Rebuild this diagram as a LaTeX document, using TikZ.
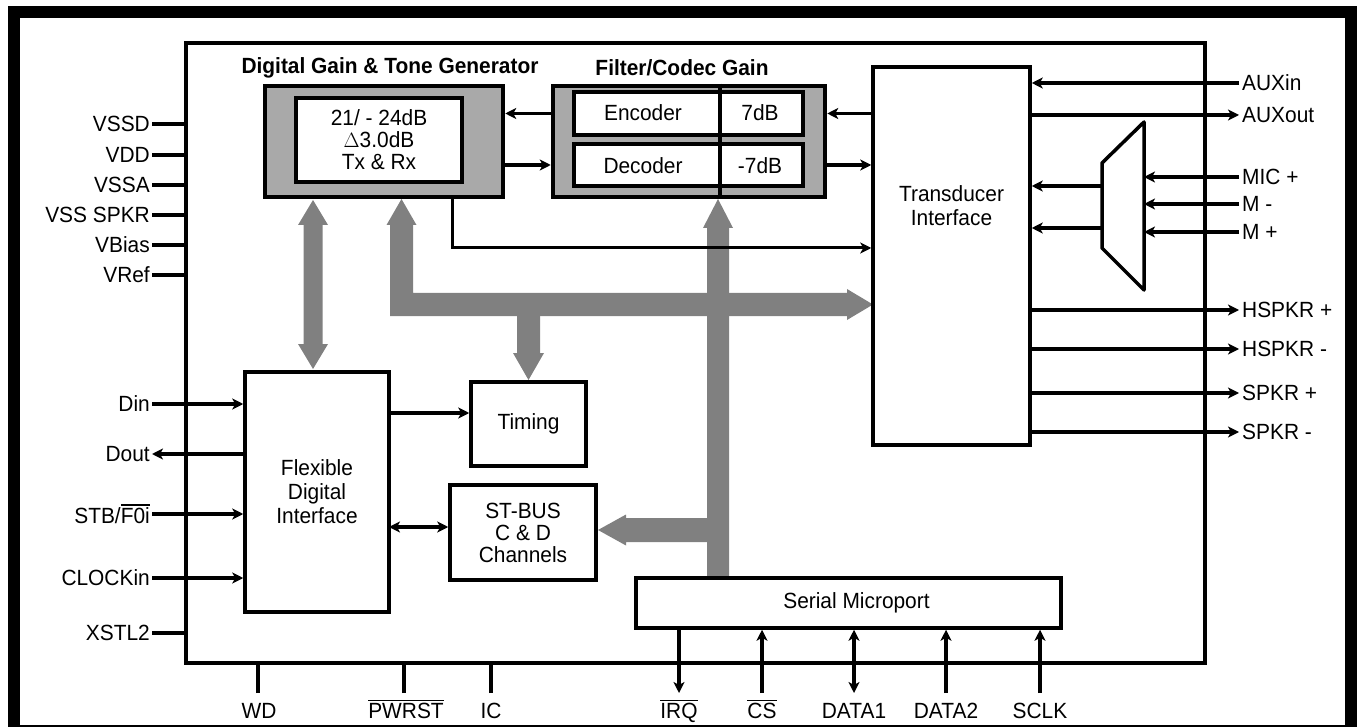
\documentclass[tikz,border=0pt]{standalone}
\usepackage{fontspec}
\setmainfont{Liberation Sans}[FakeStretch=0.95]
\usetikzlibrary{arrows.meta,calc}
\definecolor{busgray}{HTML}{808080}
\definecolor{boxgray}{HTML}{A9A9A9}
\newcommand{\ovl}[1]{\leavevmode\vbox{\hrule height 1.4pt\kern 1.6pt\hbox{#1}}}
\begin{document}
\begin{tikzpicture}[x=1pt,y=-1pt,
  txt/.style={font=\fontsize{22pt}{22pt}\selectfont},
  ttl/.style={font=\fontsize{22pt}{22pt}\selectfont\bfseries},
  blk/.style={draw, line width=3.5pt, inner sep=0pt, fill=white, align=center, txt},
  gbox/.style={draw, line width=4.5pt, fill=boxgray, inner sep=0pt},
  ibox/.style={draw, line width=4.5pt, fill=white, inner sep=0pt, align=center, txt},
  wire/.style={line width=3.5pt},
  arr/.style={wire, -{Stealth[length=11pt,width=11pt,inset=3pt]}},
  darr/.style={wire, {Stealth[length=11pt,width=11pt,inset=3pt]}-{Stealth[length=11pt,width=11pt,inset=3pt]}},
  pinl/.style={txt, anchor=east, inner sep=2pt},
  pinr/.style={txt, anchor=west, inner sep=3pt},
  pinb/.style={txt, anchor=base, inner sep=0pt},
  bus/.style={fill=busgray},
  lbl/.style={txt, inner sep=0pt, align=center},
]
\useasboundingbox (0,0) rectangle (1357,727);
% outer frame
\draw[line width=12pt] (14,12.5) rectangle (1351,731);
% chip outline
\node[draw, line width=3.5pt, minimum width=1019pt, minimum height=620pt, inner sep=0pt] (chip) at (695.5,353) {};

% left pins
\node[pinl] (vssd) at (152,124) {VSSD};
\node[pinl] (vdd) at (152,155) {VDD};
\node[pinl] (vssa) at (152,185) {VSSA};
\node[pinl] (vssspkr) at (152,215) {VSS SPKR};
\node[pinl] (vbias) at (152,245) {VBias};
\node[pinl] (vref) at (152,275) {VRef};
\node[pinl] (din) at (152,404) {Din};
\node[pinl] (dout) at (152,454) {Dout};
\node[pinl] (stb) at (152,514) {STB/\ovl{F0i}};
\node[pinl] (clk) at (152,578) {CLOCKin};
\node[pinl] (xstl) at (152,633) {XSTL2};
\foreach \p in {vssd,vdd,vssa,vssspkr,vbias,vref,xstl}
  \draw[wire] (\p.east) -- (\p.east -| chip.west);

% right pins
\node[pinr] (auxin) at (1239,83) {AUXin};
\node[pinr] (auxout) at (1239,115) {AUXout};
\node[pinr] (micp) at (1239,177) {MIC +};
\node[pinr] (mm) at (1239,204) {M -};
\node[pinr] (mp) at (1239,232) {M +};
\node[pinr] (hsp) at (1239,310) {HSPKR +};
\node[pinr] (hsm) at (1239,349) {HSPKR -};
\node[pinr] (spp) at (1239,393) {SPKR +};
\node[pinr] (spm) at (1239,432) {SPKR -};

% bottom pins
\node[pinb] (wd) at (259,718) {WD};
\node[pinb] (pwrst) at (406,718) {\ovl{PWRST}};
\node[pinb] (ic) at (491,718) {IC};
\node[pinb] (irq) at (679,718) {\ovl{IRQ}};
\node[pinb] (cs) at (762,718) {\ovl{CS}};
\node[pinb] (data1) at (854,718) {DATA1};
\node[pinb] (data2) at (946,718) {DATA2};
\node[pinb] (sclk) at (1040,718) {SCLK};
\coordinate (wdp) at (258,693);
\coordinate (pwrstp) at (404,693);
\coordinate (icp) at (491,693);
\coordinate (irqp) at (679,693);
\coordinate (csp) at (762,693);
\coordinate (d1p) at (854,693);
\coordinate (d2p) at (946,693);
\coordinate (sclkp) at (1040,693);
\foreach \p in {wdp,pwrstp,icp}
  \draw[wire] (\p) -- (\p |- chip.south);

% gray buses
\fill[bus] (313,200) -- (328,225) -- (322.5,225) -- (322.5,344) -- (328,344) -- (313,369)
  -- (298,344) -- (303.5,344) -- (303.5,225) -- (298,225) -- cycle;
\fill[bus] (401.5,199) -- (416.5,225) -- (413,225) -- (413,293) -- (847,293) -- (847,289)
  -- (873,304.5) -- (847,320) -- (847,316) -- (390,316) -- (390,225) -- (386.5,225) -- cycle;
\fill[bus] (517,310) -- (540,310) -- (540,353) -- (544,353) -- (528.5,380) -- (513,353) -- (517,353) -- cycle;
\fill[bus] (707,580) -- (707,228) -- (703,228) -- (718,199) -- (733,228) -- (729,228) -- (729,580) -- cycle;
\fill[bus] (708,518) -- (626,518) -- (626,514.5) -- (598,530) -- (626,545.5) -- (626,542) -- (708,542) -- cycle;

% blocks
\node[gbox, minimum width=238pt, minimum height=111pt] (dg) at (384,141.5) {};
\node[ibox, minimum width=166pt, minimum height=84pt] (dgi) at (379,140) {21/ - 24dB\\$\Delta$3.0dB\\Tx \& Rx};
\node[ttl] (dgt) at (390,68) {Digital Gain \& Tone Generator};

\node[gbox, minimum width=272pt, minimum height=111pt] (fcg) at (689,141.5) {};
\node[ibox, minimum width=229pt, minimum height=43pt] (enc) at (688.5,113.5) {};
\node[ibox, minimum width=229pt, minimum height=42pt] (dec) at (688.5,165) {};
\coordinate (dv) at (720,0);
\draw[line width=4pt] (dv |- fcg.north) -- (dv |- fcg.south);
\node[lbl] (enct) at (643,113) {Encoder};
\node[lbl] (encg) at (760,113) {7dB};
\node[lbl] (dect) at (643,166) {Decoder};
\node[lbl] (decg) at (760,166) {-7dB};
\node[ttl] (fcgt) at (682,68) {Filter/Codec Gain};

\node[blk, minimum width=157pt, minimum height=378pt] (ti) at (951.5,256) {};
\node[lbl] (tit) at (951.5,206) {Transducer\\[2pt]Interface};

\node[blk, minimum width=144pt, minimum height=240pt] (fdi) at (317,492) {Flexible\\[2pt]Digital\\[2pt]Interface};
\node[blk, minimum width=115pt, minimum height=84pt] (tim) at (528.5,424) {Timing};
\node[blk, minimum width=146pt, minimum height=95pt] (st) at (523,532.5) {ST-BUS\\C \& D\\Channels};
\node[blk, minimum width=425pt, minimum height=50pt] (ser) at (848.5,603) {\hspace*{16pt}Serial Microport};

% mux
\coordinate (mxtl) at (1102,163);
\coordinate (mxtr) at (1144,122);
\coordinate (mxbr) at (1144,290);
\coordinate (mxbl) at (1102,248);
\draw[wire, line join=round] (mxtl) -- (mxtr) -- (mxbr) -- (mxbl) -- cycle;

% black connectors
\draw[arr] (enc.west -| fcg.west) -- (enc.west -| dg.east);
\draw[arr] (dec.west -| dg.east) -- (dec.west -| fcg.west);
\draw[arr] (enc.east -| ti.west) -- (enc.east -| fcg.east);
\draw[arr] (dec.east -| fcg.east) -- (dec.east -| ti.west);
\coordinate (dgo) at (452,248);
\draw[arr, line width=3pt] (dgo |- dg.south) -- (dgo) -- (dgo -| ti.west);

\draw[arr] (auxin.west) -- (auxin.west -| ti.east);
\draw[arr] (auxout.west -| ti.east) -- (auxout.west);
\foreach \p in {micp,mm,mp}
  \draw[arr] (\p.west) -- (\p.west -| mxtr);
\coordinate (mo1) at (1102,186);
\coordinate (mo2) at (1102,228);
\draw[arr] (mo1) -- (mo1 -| ti.east);
\draw[arr] (mo2) -- (mo2 -| ti.east);
\foreach \p in {hsp,hsm,spp,spm}
  \draw[arr] (\p.west -| ti.east) -- (\p.west);

\draw[arr] (din.east) -- (din.east -| fdi.west);
\draw[arr] (dout.east -| fdi.west) -- (dout.east);
\draw[arr] (stb.east) -- (stb.east -| fdi.west);
\draw[arr] (clk.east) -- (clk.east -| fdi.west);
\coordinate (ft) at (389,413);
\draw[arr] (ft) -- (ft -| tim.west);
\coordinate (fs) at (389,527);
\draw[darr] (fs) -- (fs -| st.west);

\draw[arr] (irqp |- ser.south) -- (irqp);
\draw[arr] (csp) -- (csp |- ser.south);
\draw[darr] (d1p) -- (d1p |- ser.south);
\draw[arr] (d2p) -- (d2p |- ser.south);
\draw[arr] (sclkp) -- (sclkp |- ser.south);
\end{tikzpicture}
\end{document}
